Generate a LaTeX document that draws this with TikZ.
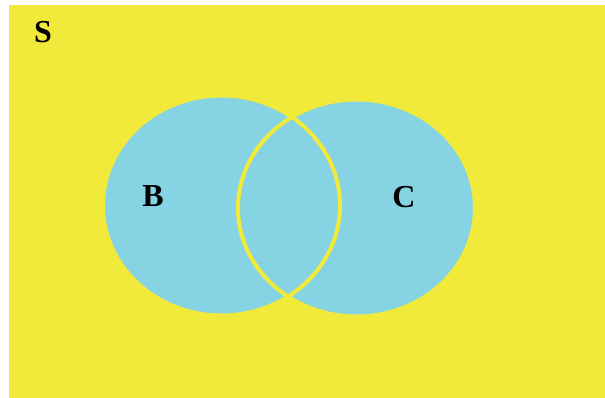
\documentclass[tikz,border=0pt]{standalone}
\usepackage{fontspec}
\setmainfont{Liberation Serif}
\usepackage{tikz}
\usetikzlibrary{positioning}
\definecolor{venyellow}{RGB}{241,234,58}
\definecolor{venblue}{RGB}{134,212,227}

\begin{document}
\begin{tikzpicture}[x=1pt, y=-1pt,
  setfill/.style={fill=venblue, draw=none},
  setline/.style={draw=venyellow, line width=4pt},
  setlabel/.style={font=\fontsize{32}{32}\selectfont\bfseries, text=black, inner sep=0pt}]
\useasboundingbox (0,0) rectangle (605,398);
\fill[venyellow] (9,5) rectangle (605,398);
% the two sets
\fill[setfill] (221.5,205.5) ellipse [x radius=118.5, y radius=110];
\fill[setfill] (356.5,208) ellipse [x radius=118.5, y radius=108.5];
\draw[setline] (221.5,205.5) ellipse [x radius=118.5, y radius=110];
\draw[setline] (356.5,208) ellipse [x radius=118.5, y radius=108.5];
\node[setlabel] (S) at (43,32) {S};
\node[setlabel] (B) at (153,196) {B};
\node[setlabel] (C) at (404,197) {C};
\end{tikzpicture}
\end{document}
